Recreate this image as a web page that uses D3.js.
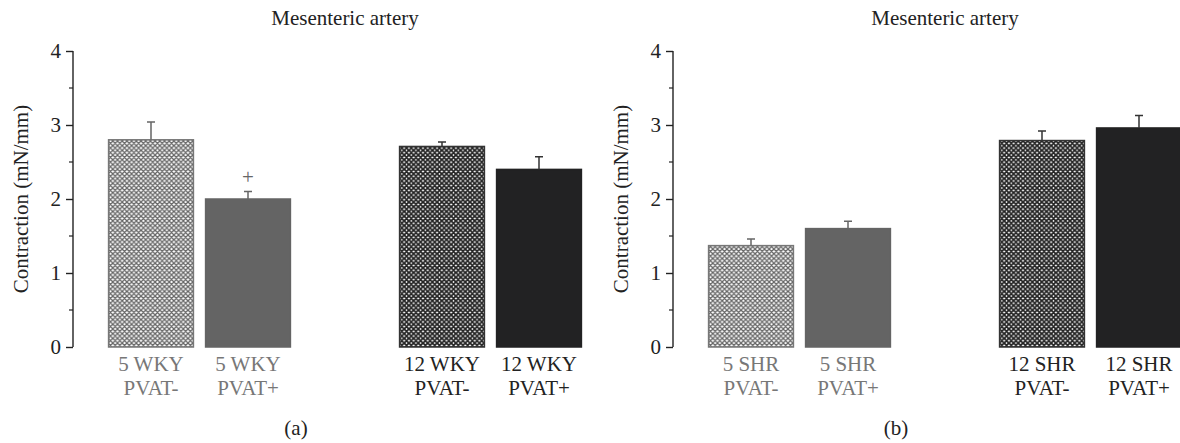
<!DOCTYPE html>
<html>
<head>
<meta charset="utf-8">
<script src="https://cdn.jsdelivr.net/npm/d3@7"></script>
<style>
  body { margin: 0; background: #fff; }
  svg text { font-family: "Liberation Serif", "Times New Roman", serif; }
</style>
</head>
<body>
<svg id="chart" width="1180" height="443"></svg>
<script>
// data
var slots = ['a', 'b', 'gap', 'c', 'd'];
var yTicks = [0, 1, 2, 3, 4];
var yMinor = [0.5, 1.5, 2.5, 3.5];

var labelsA = [['5 WKY', 'PVAT-'], ['5 WKY', 'PVAT+'], ['12 WKY', 'PVAT-'], ['12 WKY', 'PVAT+']];
var labelsB = [['5 SHR', 'PVAT-'], ['5 SHR', 'PVAT+'], ['12 SHR', 'PVAT-'], ['12 SHR', 'PVAT+']];
var meansA = [2.80, 2.00, 2.71, 2.40];
var errA = [0.24, 0.10, 0.06, 0.17];
var meansB = [1.37, 1.60, 2.79, 2.96];
var errB = [0.09, 0.10, 0.13, 0.17];
var marksA = ['', '+', '', ''];
var marksB = ['', '', '', ''];

// style per bar kind (same order in both panels)
var STYLE = [
  { fill: 'url(#hatchLight)', stroke: '#777', err: '#666', text: '#777' },
  { fill: '#646464', stroke: '#646464', err: '#666', text: '#777' },
  { fill: 'url(#hatchDark)', stroke: '#333', err: '#333', text: '#222' },
  { fill: '#222223', stroke: '#222223', err: '#333', text: '#222' }
];

var FS = 21;
var svg = d3.select('#chart');

/*******************
 * PATTERNS
 *******************/
var defs = svg.append('defs');
function hatch(id, color, w) {
  var s = 4.7;
  var p = defs.append('pattern')
    .attr('id', id)
    .attr('patternUnits', 'userSpaceOnUse')
    .attr('width', s).attr('height', s);
  p.append('rect').attr('width', s).attr('height', s).attr('fill', '#fff');
  p.append('path')
    .attr('d', 'M0,0L' + s + ',' + s + 'M' + s + ',0L0,' + s +
      'M-1,1L1,-1M' + (s - 1) + ',' + (s + 1) + 'L' + (s + 1) + ',' + (s - 1) +
      'M-1,' + (s - 1) + 'L1,' + (s + 1) + 'M' + (s - 1) + ',-1L' + (s + 1) + ',1')
    .attr('stroke', color).attr('stroke-width', w);
}
hatch('hatchLight', '#666', 1.3);
hatch('hatchDark', '#222', 1.8);

var y = d3.scaleLinear().domain([0, 4]).range([347, 51]);
var x = d3.scaleBand().domain(slots).range([102.5, 587.5]).paddingInner(0.11).paddingOuter(0.055);

function panel(offset, means, errs, labels, marks, tag) {
  var g = svg.append('g').attr('transform', 'translate(' + offset + ',0)');
  var keys = slots.filter(function (s) { return s !== 'gap'; });

  // axis
  var axis = g.append('g').attr('transform', 'translate(73,0)')
    .call(d3.axisLeft(y).tickValues(yTicks).tickSize(7).tickPadding(5).tickFormat(d3.format('d')));
  axis.attr('font-family', null).attr('font-size', null);
  axis.select('.domain').attr('stroke', '#222').attr('stroke-width', 1.4).attr('d', 'M0,' + y(0) + 'V' + y(4));
  axis.selectAll('.tick line').attr('stroke', '#222').attr('stroke-width', 1.4);
  axis.selectAll('.tick text').attr('font-size', FS).attr('fill', '#222');
  axis.selectAll('.minor').data(yMinor).enter().append('line')
    .attr('class', 'minor')
    .attr('x1', -4).attr('x2', 0)
    .attr('y1', function (d) { return y(d); }).attr('y2', function (d) { return y(d); })
    .attr('stroke', '#222').attr('stroke-width', 1.2);

  // bars
  var bars = g.selectAll('.bar').data(means).enter().append('g').attr('class', 'bar');
  bars.append('rect')
    .attr('x', function (d, i) { return x(keys[i]) + 0.75; })
    .attr('y', function (d) { return y(d); })
    .attr('width', x.bandwidth() - 1.5)
    .attr('height', function (d) { return y(0) - y(d); })
    .attr('fill', function (d, i) { return STYLE[i].fill; })
    .attr('stroke', function (d, i) { return STYLE[i].stroke; })
    .attr('stroke-width', 1.5);

  // error bars (upper half only)
  bars.append('path')
    .attr('d', function (d, i) {
      var cx = x(keys[i]) + x.bandwidth() / 2;
      var top = y(d + errs[i]);
      return 'M' + cx + ',' + y(d) + 'V' + top + 'M' + (cx - 4) + ',' + top + 'H' + (cx + 4);
    })
    .attr('fill', 'none')
    .attr('stroke', function (d, i) { return STYLE[i].err; })
    .attr('stroke-width', 1.5);

  // significance marks
  bars.append('text')
    .attr('x', function (d, i) { return x(keys[i]) + x.bandwidth() / 2; })
    .attr('y', function (d, i) { return y(d + errs[i]) - 8; })
    .attr('text-anchor', 'middle')
    .attr('font-size', FS)
    .attr('fill', '#666')
    .text(function (d, i) { return marks[i]; });

  // category labels
  bars.each(function (d, i) {
    var t = d3.select(this).append('text')
      .attr('text-anchor', 'middle')
      .attr('font-size', FS)
      .attr('fill', STYLE[i].text);
    labels[i].forEach(function (line, k) {
      t.append('tspan')
        .attr('x', x(keys[i]) + x.bandwidth() / 2)
        .attr('y', 371 + k * 24)
        .text(line);
    });
  });

  g.append('text')
    .attr('transform', 'translate(28,' + y(2) + ') rotate(-90)')
    .attr('text-anchor', 'middle')
    .attr('font-size', 21)
    .attr('fill', '#222')
    .text('Contraction (mN/mm)');

  g.append('text')
    .attr('x', 345).attr('y', 25)
    .attr('text-anchor', 'middle')
    .attr('font-size', FS)
    .attr('fill', '#222')
    .text('Mesenteric artery');

  g.append('text')
    .attr('x', 296).attr('y', 435)
    .attr('text-anchor', 'middle')
    .attr('font-size', FS)
    .attr('fill', '#222')
    .text(tag);
}

panel(0, meansA, errA, labelsA, marksA, '(a)');
panel(600, meansB, errB, labelsB, marksB, '(b)');
</script>
</body>
</html>
